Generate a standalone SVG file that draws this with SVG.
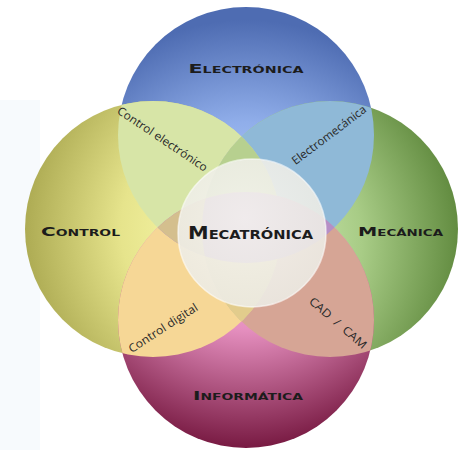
<svg xmlns="http://www.w3.org/2000/svg" width="459" height="450" viewBox="0 0 459 450">
<defs>
<radialGradient id="gT" cx="0.5" cy="0.85" r="0.8"><stop offset="0" stop-color="#bcd4fa"/><stop offset="0.5" stop-color="#90aeea"/><stop offset="1" stop-color="#4e6cb2"/></radialGradient>
<radialGradient id="gL" cx="0.8" cy="0.5" r="0.85"><stop offset="0" stop-color="#fdfdb0"/><stop offset="0.5" stop-color="#e6e48c"/><stop offset="1" stop-color="#a6a44c"/></radialGradient>
<radialGradient id="gR" cx="0.2" cy="0.55" r="0.85"><stop offset="0" stop-color="#d8f0bc"/><stop offset="0.5" stop-color="#a8cc86"/><stop offset="1" stop-color="#5a8438"/></radialGradient>
<radialGradient id="gB" cx="0.5" cy="0.15" r="0.85"><stop offset="0" stop-color="#fabae2"/><stop offset="0.45" stop-color="#e690c0"/><stop offset="1" stop-color="#781a42"/></radialGradient>
<radialGradient id="gC" cx="0.45" cy="0.4" r="0.6"><stop offset="0" stop-color="#f6f5f0"/><stop offset="1" stop-color="#ecebe4"/></radialGradient>
<clipPath id="cT"><circle cx="246" cy="135" r="128"/></clipPath>
<clipPath id="cL"><circle cx="153" cy="229" r="128"/></clipPath>
<clipPath id="cR"><circle cx="330" cy="229" r="128"/></clipPath>
<clipPath id="cB"><circle cx="246" cy="320" r="128"/></clipPath>
<style>
.title{font-family:"DejaVu Sans","Liberation Sans",sans-serif;font-weight:bold;font-variant:small-caps;fill:#1c1c1c;text-anchor:middle}
.sub{font-family:"Open Sans","Noto Sans",sans-serif;font-size:11.5px;fill:#2a2a2a;text-anchor:middle}
</style>
</defs>
<rect width="459" height="450" fill="#ffffff"/>
<rect x="0" y="100" width="40" height="350" fill="#f7fafd"/>
<g id="shapes">
<circle cx="246" cy="135" r="128" fill="url(#gT)"/>
<circle cx="153" cy="229" r="128" fill="url(#gL)"/>
<circle cx="330" cy="229" r="128" fill="url(#gR)"/>
<circle cx="246" cy="320" r="128" fill="url(#gB)"/>
<circle cx="153" cy="229" r="128" fill="#d7e5a7" clip-path="url(#cT)"/>
<circle cx="330" cy="229" r="128" fill="#8fb9d7" clip-path="url(#cT)"/>
<circle cx="153" cy="229" r="128" fill="#f6d796" clip-path="url(#cB)"/>
<circle cx="330" cy="229" r="128" fill="#d6a595" clip-path="url(#cB)"/>
<circle cx="246" cy="320" r="128" fill="#b58fc8" clip-path="url(#cT)"/>
<circle cx="330" cy="229" r="128" fill="#d8d49a" clip-path="url(#cL)"/>
<g clip-path="url(#cT)"><circle cx="330" cy="229" r="128" fill="#b7d08f" clip-path="url(#cL)"/></g>
<g clip-path="url(#cB)"><circle cx="330" cy="229" r="128" fill="#e2cc8c" clip-path="url(#cL)"/></g>
<g clip-path="url(#cT)"><circle cx="246" cy="320" r="128" fill="#d4bf8e" clip-path="url(#cL)"/></g>
<g clip-path="url(#cT)"><circle cx="246" cy="320" r="128" fill="#b68fc6" clip-path="url(#cR)"/></g>
</g>
<g id="node-electronica"><text class="title" x="246" y="73" font-size="13" textLength="115" lengthAdjust="spacingAndGlyphs">Electrónica</text></g>
<g id="node-control"><text class="title" x="80.5" y="236" font-size="13" textLength="79" lengthAdjust="spacingAndGlyphs">Control</text></g>
<g id="node-mecanica"><text class="title" x="400.5" y="236" font-size="13" textLength="85" lengthAdjust="spacingAndGlyphs">Mecánica</text></g>
<g id="node-informatica"><text class="title" x="248" y="400" font-size="13" textLength="110" lengthAdjust="spacingAndGlyphs">Informática</text></g>
<g id="label-control-electronico"><text class="sub" transform="translate(162.5,139) rotate(34)" x="0" y="4" textLength="106" lengthAdjust="spacingAndGlyphs">Control electrónico</text></g>
<g id="label-electromecanica"><text class="sub" transform="translate(329,135) rotate(-37)" x="0" y="4" textLength="90" lengthAdjust="spacingAndGlyphs">Electromecánica</text></g>
<g id="label-control-digital"><text class="sub" transform="translate(163,328) rotate(-33)" x="0" y="4" textLength="80" lengthAdjust="spacingAndGlyphs">Control digital</text></g>
<g id="label-cad-cam"><text class="sub" transform="translate(338,323) rotate(41)" x="0" y="4" textLength="72" lengthAdjust="spacingAndGlyphs" xml:space="preserve">CAD  /  CAM</text></g>
<g id="node-mecatronica">
<circle cx="252" cy="233" r="74" fill="url(#gC)" fill-opacity="0.9" stroke="#ffffff" stroke-opacity="0.6" stroke-width="1.5"/>
<text class="title" x="250.5" y="238.5" font-size="17" textLength="125" lengthAdjust="spacingAndGlyphs">Mecatrónica</text>
</g>
</svg>
